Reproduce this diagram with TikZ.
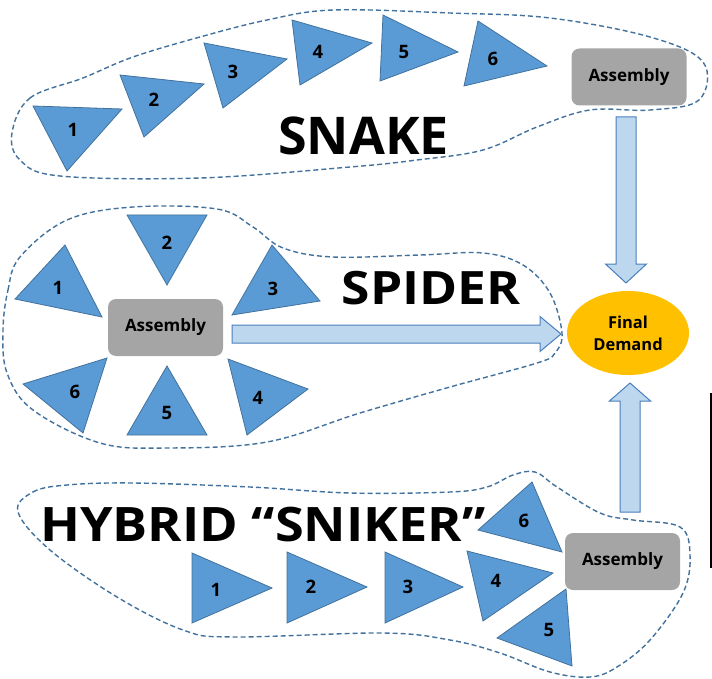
\documentclass[tikz,border=0pt]{standalone}
\usepackage{fontspec}
\setmainfont{Open Sans}
\usetikzlibrary{shapes.geometric,calc}
\definecolor{triblue}{RGB}{91,155,213}
\definecolor{triedge}{RGB}{65,113,156}
\definecolor{arrowfill}{RGB}{189,215,238}
\definecolor{arrowedge}{RGB}{74,126,187}
\definecolor{hulledge}{RGB}{65,113,156}
\definecolor{asmgray}{RGB}{165,165,165}
\definecolor{fdorange}{RGB}{255,192,0}
\begin{document}
\begin{tikzpicture}[x=1pt,y=-1pt,
  tri/.style={fill=triblue,draw=triedge,line width=0.8pt,line join=miter},
  num/.style={font=\fontsize{18.5}{18.5}\selectfont\bfseries,inner sep=0pt},
  asm/.style={fill=asmgray,rounded corners=8pt,minimum width=115pt,minimum height=57pt,font=\fontsize{17}{17}\selectfont\bfseries,inner sep=0pt},
  blk/.style={fill=arrowfill,draw=arrowedge,line width=1pt,line join=miter},
  hull/.style={draw=hulledge,dash pattern=on 5pt off 3pt,line width=1.4pt},
  title/.style={font=\fontsize{52}{52}\selectfont\bfseries,inner sep=0pt}
]
\useasboundingbox (0,0) rectangle (712,679);

% ---------- hulls ----------
\draw[hull] plot[smooth cycle, tension=0.6] coordinates {(12,133) (30,98) (83,78) (133,57) (200,37) (267,20) (333,10) (450,13) (550,18) (650,37) (703,62) (699,100) (650,110) (590,110) (537,127) (483,150) (417,160) (350,167) (200,178) (60,176) (20,160)};
\draw[hull] plot[smooth cycle, tension=0.6] coordinates {(3,330) (8,290) (20,257) (67,220) (133,207) (217,209) (253,227) (283,248) (333,257) (420,255) (483,253) (523,265) (550,293) (562,333) (555,353) (537,363) (450,387) (360,413) (267,442) (167,448) (100,443) (33,410) (7,373)};
\draw[hull] plot[smooth cycle, tension=0.6] coordinates {(18,512) (33,492) (67,485) (133,483) (250,487) (350,493) (450,492) (487,487) (513,475) (535,472) (557,487) (600,513) (633,520) (680,527) (690,555) (683,593) (650,640) (617,667) (590,677) (550,672) (500,653) (450,640) (383,633) (233,637) (183,630) (117,597) (50,550)};

% ---------- SNAKE ----------
\filldraw[tri] (33,106) -- (122,109) -- (67,171) -- cycle;
\filldraw[tri] (120,75) -- (204,84) -- (144,137) -- cycle;
\filldraw[tri] (204,43) -- (287,59) -- (223,108) -- cycle;
\filldraw[tri] (292,20) -- (372,43) -- (300,85) -- cycle;
\filldraw[tri] (383,15) -- (458,52) -- (380,81) -- cycle;
\filldraw[tri] (478,21) -- (547,66) -- (464,86) -- cycle;
\node[num] (s1) at (73,130) {1};
\node[num] (s2) at (154,100) {2};
\node[num] (s3) at (233,72) {3};
\node[num] (s4) at (318,52) {4};
\node[num] (s5) at (404,52) {5};
\node[num] (s6) at (493,59) {6};
\node[asm] (asnake) at (629,77) {Assembly};
\node[title,anchor=base west] (tsnake) at (278,155) {SNAKE};

% ---------- SPIDER ----------
\filldraw[tri] (65,245) -- (15,299) -- (102,317) -- cycle;
\filldraw[tri] (127,215) -- (207,215) -- (167,285) -- cycle;
\filldraw[tri] (272,245) -- (320,301) -- (232,315) -- cycle;
\filldraw[tri] (228,359) -- (308,389) -- (247,435) -- cycle;
\filldraw[tri] (167,366) -- (127,435) -- (207,435) -- cycle;
\filldraw[tri] (107,358) -- (23,384) -- (83,433) -- cycle;
\node[num] (p1) at (58,288) {1};
\node[num] (p2) at (167,243) {2};
\node[num] (p3) at (273,289) {3};
\node[num] (p4) at (258,398) {4};
\node[num] (p5) at (167,413) {5};
\node[num] (p6) at (75,392) {6};
\node[asm] (aspider) at (165.5,327.5) {Assembly};
\node[title,anchor=base east,font=\fontsize{46}{46}\selectfont\bfseries,xscale=1.12] (tspider) at (521,304) {SPIDER};

% ---------- HYBRID ----------
\filldraw[tri] (192,553) -- (272,588) -- (192,623) -- cycle;
\filldraw[tri] (287,552) -- (367,587) -- (287,623) -- cycle;
\filldraw[tri] (385,552) -- (463,587) -- (385,623) -- cycle;
\filldraw[tri] (467,551) -- (553,573) -- (483,621) -- cycle;
\filldraw[tri] (532,482) -- (478,530) -- (562,552) -- cycle;
\filldraw[tri] (566,589) -- (497,638) -- (572,666) -- cycle;
\node[num] (h1) at (216,590) {1};
\node[num] (h2) at (311,587) {2};
\node[num] (h3) at (408,587) {3};
\node[num] (h4) at (496,581) {4};
\node[num] (h5) at (549,630) {5};
\node[num] (h6) at (524,521) {6};
\node[asm] (ahybrid) at (622.5,561.5) {Assembly};
\node[title,anchor=base west,font=\fontsize{47.5}{47.5}\selectfont\bfseries,xscale=1.10] (thybrid) at (40,541) {HYBRID “SNIKER”};

% ---------- Final demand ----------
\node[ellipse,fill=fdorange,minimum width=122pt,minimum height=84pt,inner sep=0pt,align=center,font=\fontsize{16.5}{22}\selectfont\bfseries] (fd) at (628,333) {Final\\Demand};

% ---------- block arrows ----------
\coordinate (d0) at (626,117); \coordinate (d1) at (626,283);
\draw[blk] ($(d0)+(-10,0)$) -- ($(d0)+(10,0)$) -- ($(d1)+(10,-19)$) -- ($(d1)+(20.5,-19)$) -- (d1) -- ($(d1)+(-20.5,-19)$) -- ($(d1)+(-10,-19)$) -- cycle;
\coordinate (r0) at (232,334); \coordinate (r1) at (561,334);
\draw[blk] ($(r0)+(0,-9)$) -- ($(r1)+(-21,-9)$) -- ($(r1)+(-21,-17.5)$) -- (r1) -- ($(r1)+(-21,17.5)$) -- ($(r1)+(-21,9)$) -- ($(r0)+(0,9)$) -- cycle;
\coordinate (u0) at (630,512); \coordinate (u1) at (630,383);
\draw[blk] ($(u0)+(-10,0)$) -- ($(u1)+(-10,18)$) -- ($(u1)+(-20.5,18)$) -- (u1) -- ($(u1)+(20.5,18)$) -- ($(u1)+(10,18)$) -- ($(u0)+(10,0)$) -- cycle;

% ---------- edge line ----------
\coordinate (e0) at (711,393); \coordinate (e1) at (711,568);
\draw[line width=1.5pt] (e0) -- (e1);
\end{tikzpicture}
\end{document}
